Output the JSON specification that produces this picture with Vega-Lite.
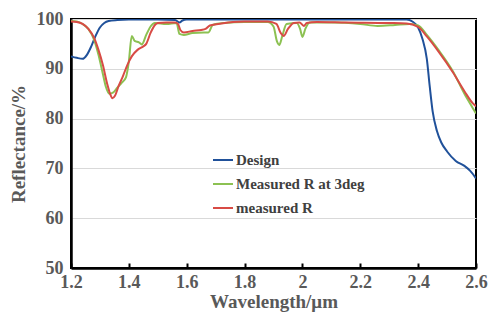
{
  "$schema": "https://vega.github.io/schema/vega-lite/v6.json",
  "width": 405,
  "height": 249,
  "autosize": {"type": "none"},
  "padding": {"left": 71, "top": 19, "right": 15, "bottom": 52},
  "background": "white",
  "config": {
    "view": {"stroke": "#000000", "strokeWidth": 2},
    "font": "Liberation Serif"
  },
  "datasets": {
    "design": [
      {"w":1.20,"r":92.5},{"w":1.22,"r":92.2},{"w":1.24,"r":92.0},{"w":1.255,"r":92.8},{"w":1.27,"r":94.5},{"w":1.285,"r":96.6},{"w":1.30,"r":98.3},{"w":1.315,"r":99.2},{"w":1.33,"r":99.6},{"w":1.36,"r":99.8},{"w":1.40,"r":99.9},{"w":1.50,"r":99.9},{"w":1.56,"r":99.8},{"w":1.575,"r":99.3},{"w":1.585,"r":99.7},{"w":1.60,"r":99.9},{"w":1.80,"r":99.9},{"w":2.00,"r":99.9},{"w":2.20,"r":99.9},{"w":2.36,"r":99.9},{"w":2.38,"r":99.5},{"w":2.40,"r":98.3},{"w":2.415,"r":96.0},{"w":2.43,"r":92.0},{"w":2.44,"r":86.5},{"w":2.45,"r":81.5},{"w":2.465,"r":77.5},{"w":2.48,"r":75.2},{"w":2.50,"r":73.4},{"w":2.53,"r":71.5},{"w":2.56,"r":70.5},{"w":2.58,"r":69.5},{"w":2.60,"r":68.0}
    ],
    "green": [
      {"w":1.20,"r":99.6},{"w":1.22,"r":99.5},{"w":1.24,"r":99.0},{"w":1.26,"r":98.0},{"w":1.28,"r":95.8},{"w":1.295,"r":92.8},{"w":1.31,"r":89.0},{"w":1.32,"r":86.5},{"w":1.333,"r":85.0},{"w":1.345,"r":85.2},{"w":1.36,"r":86.2},{"w":1.375,"r":87.2},{"w":1.39,"r":88.3},{"w":1.40,"r":91.5},{"w":1.41,"r":96.6},{"w":1.42,"r":95.6},{"w":1.435,"r":95.3},{"w":1.445,"r":94.9},{"w":1.46,"r":96.8},{"w":1.475,"r":98.5},{"w":1.49,"r":99.2},{"w":1.53,"r":99.0},{"w":1.565,"r":99.2},{"w":1.575,"r":97.0},{"w":1.59,"r":96.8},{"w":1.62,"r":97.2},{"w":1.66,"r":97.3},{"w":1.675,"r":97.3},{"w":1.69,"r":98.8},{"w":1.73,"r":99.2},{"w":1.80,"r":99.4},{"w":1.88,"r":99.4},{"w":1.90,"r":98.5},{"w":1.912,"r":95.5},{"w":1.92,"r":94.8},{"w":1.93,"r":96.5},{"w":1.945,"r":99.0},{"w":1.98,"r":99.2},{"w":1.992,"r":98.0},{"w":2.0,"r":96.4},{"w":2.01,"r":98.0},{"w":2.025,"r":99.3},{"w":2.10,"r":99.3},{"w":2.20,"r":99.0},{"w":2.26,"r":98.6},{"w":2.32,"r":98.8},{"w":2.37,"r":99.0},{"w":2.40,"r":98.7},{"w":2.43,"r":96.8},{"w":2.47,"r":93.8},{"w":2.52,"r":89.5},{"w":2.56,"r":85.0},{"w":2.59,"r":82.0},{"w":2.60,"r":81.0}
    ],
    "red": [
      {"w":1.20,"r":99.5},{"w":1.22,"r":99.4},{"w":1.24,"r":99.0},{"w":1.26,"r":98.0},{"w":1.28,"r":96.2},{"w":1.295,"r":93.8},{"w":1.31,"r":90.8},{"w":1.325,"r":87.0},{"w":1.335,"r":85.0},{"w":1.343,"r":84.1},{"w":1.352,"r":84.6},{"w":1.365,"r":86.6},{"w":1.38,"r":88.6},{"w":1.395,"r":90.8},{"w":1.41,"r":92.5},{"w":1.43,"r":93.8},{"w":1.45,"r":94.5},{"w":1.46,"r":95.0},{"w":1.475,"r":97.2},{"w":1.49,"r":98.8},{"w":1.50,"r":99.2},{"w":1.53,"r":99.3},{"w":1.56,"r":99.3},{"w":1.57,"r":99.0},{"w":1.578,"r":97.8},{"w":1.59,"r":97.3},{"w":1.62,"r":97.6},{"w":1.65,"r":97.8},{"w":1.665,"r":98.0},{"w":1.68,"r":98.7},{"w":1.72,"r":99.1},{"w":1.76,"r":99.4},{"w":1.80,"r":99.5},{"w":1.88,"r":99.5},{"w":1.91,"r":99.0},{"w":1.925,"r":97.2},{"w":1.935,"r":96.6},{"w":1.95,"r":98.0},{"w":1.97,"r":99.2},{"w":1.99,"r":99.3},{"w":2.005,"r":98.6},{"w":2.015,"r":99.2},{"w":2.05,"r":99.4},{"w":2.15,"r":99.3},{"w":2.30,"r":99.2},{"w":2.36,"r":99.1},{"w":2.40,"r":98.4},{"w":2.43,"r":96.5},{"w":2.47,"r":93.5},{"w":2.52,"r":89.3},{"w":2.56,"r":85.5},{"w":2.59,"r":83.0},{"w":2.60,"r":82.5}
    ]
  },
  "layer": [
    {
      "data": {"name": "design"},
      "transform": [{"calculate": "'Design'", "as": "s"}],
      "mark": {"type": "line", "interpolate": "monotone", "strokeWidth": 2, "clip": true},
      "encoding": {
        "x": {"field": "w", "type": "quantitative", "scale": {"domain": [1.2, 2.6], "nice": false, "zero": false},
          "axis": {"values": [1.2,1.4,1.6,1.8,2.0,2.2,2.4,2.6], "labelExpr": "format(datum.value,'~g')", "title": "Wavelength/μm",
            "grid": false, "domainColor": "#000000", "domainWidth": 2.5, "tickColor": "#000000", "tickWidth": 2, "tickSize": -5,
            "labelFont": "Liberation Serif", "labelFontWeight": "bold", "labelFontSize": 18, "labelColor": "#595959", "labelPadding": 10, "labelFlush": false,
            "titleFont": "Liberation Serif", "titleFontWeight": "bold", "titleFontSize": 19, "titleColor": "#595959", "titlePadding": 1}},
        "y": {"field": "r", "type": "quantitative", "scale": {"domain": [50, 100], "nice": false, "zero": false},
          "axis": {"values": [50,60,70,80,90,100], "title": "Reflectance/%", "grid": true, "gridColor": "#d9d9d9", "gridWidth": 1,
            "ticks": false, "domainColor": "#000000", "domainWidth": 2.5,
            "labelFont": "Liberation Serif", "labelFontWeight": "bold", "labelFontSize": 18, "labelColor": "#595959", "labelPadding": 8,
            "titleFont": "Liberation Serif", "titleFontWeight": "bold", "titleFontSize": 19, "titleColor": "#595959", "titlePadding": 8}},
        "color": {"field": "s", "type": "nominal",
          "scale": {"domain": ["Design", "Measured R at 3deg", "measured R"], "range": ["#20519A", "#8CC152", "#D84B45"]},
          "legend": {"orient": "none", "legendX": 141, "legendY": 130, "title": null, "symbolType": "stroke", "symbolSize": 400, "symbolStrokeWidth": 2,
            "labelFont": "Liberation Serif", "labelFontWeight": "bold", "labelFontSize": 15, "labelColor": "#404040", "labelOffset": 2, "rowPadding": 5}}
      }
    },
    {
      "data": {"name": "green"},
      "transform": [{"calculate": "'Measured R at 3deg'", "as": "s"}],
      "mark": {"type": "line", "interpolate": "monotone", "strokeWidth": 2, "clip": true},
      "encoding": {
        "x": {"field": "w", "type": "quantitative"},
        "y": {"field": "r", "type": "quantitative"},
        "color": {"field": "s", "type": "nominal"}
      }
    },
    {
      "data": {"name": "red"},
      "transform": [{"calculate": "'measured R'", "as": "s"}],
      "mark": {"type": "line", "interpolate": "monotone", "strokeWidth": 2, "clip": true},
      "encoding": {
        "x": {"field": "w", "type": "quantitative"},
        "y": {"field": "r", "type": "quantitative"},
        "color": {"field": "s", "type": "nominal"}
      }
    }
  ]
}
